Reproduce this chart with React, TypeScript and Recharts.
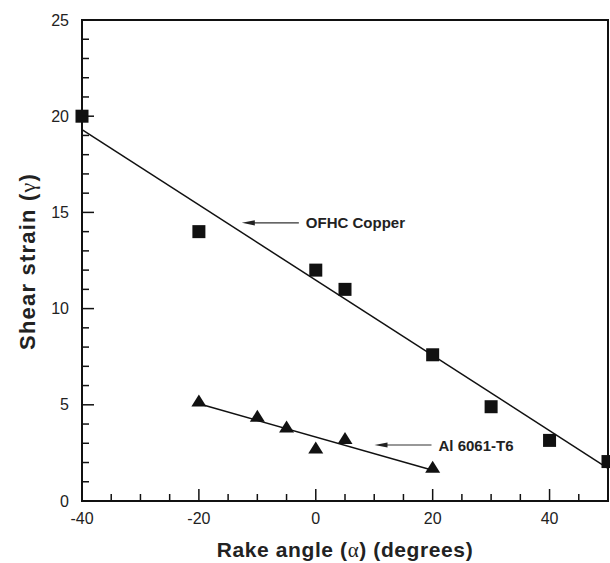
import { ComposedChart, Label, Line, ReferenceArea, ReferenceDot, Scatter, XAxis, YAxis } from "recharts"

// OFHC Copper measurements
const copperRake = [-40, -20, 0, 5, 20, 30, 40, 50]
const copperStrain = [20, 14, 12, 11, 7.6, 4.9, 3.15, 2.05]
// Al 6061-T6 measurements
const alRake = [-20, -10, -5, 0, 5, 20]
const alStrain = [5.2, 4.4, 3.85, 2.75, 3.25, 1.75]
// fitted lines (end points)
const copperFitRake = [-40, 50]
const copperFitStrain = [19.3, 1.7]
const alFitRake = [-20, 20]
const alFitStrain = [5.05, 1.6]
// annotation anchors
const noteLabels = ["OFHC Copper", "Al 6061-T6"]
const noteRake = [-1.7, 21]
const noteStrain = [14.46, 2.91]

const xTicks = Array.from({ length: 19 }, (_, i) => -40 + i * 5)
const yTicks = Array.from({ length: 26 }, (_, i) => i)

const zip = (xs: number[], ys: number[]) => xs.map((x, i) => ({ x, y: ys[i] }))
const copperData = zip(copperRake, copperStrain)
const alData = zip(alRake, alStrain)
const copperFit = zip(copperFitRake, copperFitStrain)
const alFit = zip(alFitRake, alFitStrain)

const INK = "#111"
const FONT = "'Liberation Sans', Arial, Helvetica, sans-serif"

const XTick = (props: any) => {
  const { x, y, payload } = props
  const v = payload.value
  const major = v % 20 === 0
  return (
    <g>
      <line x1={x} y1={y} x2={x} y2={y - (major ? 12 : 7)} stroke={INK} strokeWidth={1.5} />
      {major && (
        <text x={x} y={y + 17} textAnchor="middle" dominantBaseline="central" fontSize={16} fill="#222" fontFamily={FONT}>
          {v}
        </text>
      )}
    </g>
  )
}

const YTick = (props: any) => {
  const { x, y, payload } = props
  const v = payload.value
  const major = v % 5 === 0
  return (
    <g>
      <line x1={x} y1={y} x2={x + (major ? 12 : 7)} y2={y} stroke={INK} strokeWidth={1.5} />
      {major && (
        <text x={x - 13} y={y} textAnchor="end" dominantBaseline="central" fontSize={16} fill="#222" fontFamily={FONT}>
          {v}
        </text>
      )}
    </g>
  )
}

const Square = (p: any) => <rect x={p.cx - 6.5} y={p.cy - 6.5} width={13} height={13} fill={INK} />

const Triangle = (p: any) => (
  <polygon points={`${p.cx},${p.cy - 6.5} ${p.cx - 7.5},${p.cy + 5.5} ${p.cx + 7.5},${p.cy + 5.5}`} fill={INK} />
)

const Note = (text: string) => (p: any) => {
  const { cx, cy } = p
  const end = cx - 7
  const tip = end - 57
  return (
    <g>
      <line x1={end} y1={cy} x2={tip + 10} y2={cy} stroke="#333" strokeWidth={1.2} />
      <polygon points={`${tip},${cy} ${tip + 13},${cy - 2.6} ${tip + 13},${cy + 2.6}`} fill="#222" />
      <text x={cx} y={cy} dominantBaseline="central" fontSize={15} fontWeight="bold" fill="#222" fontFamily={FONT}>
        {text}
      </text>
    </g>
  )
}

const XTitle = (p: any) => {
  const vb = p.viewBox
  return (
    <text x={vb.x + vb.width / 2} y={vb.y + 56} textAnchor="middle" fontSize={21} letterSpacing={0.6} fontWeight="bold" fill="#222" fontFamily={FONT}>
      Rake angle (<tspan fontWeight="normal" fontFamily="'Liberation Serif', serif">α</tspan>) (degrees)
    </text>
  )
}

const YTitle = (p: any) => {
  const vb = p.viewBox
  const cx = vb.x + 35
  const cy = vb.y + vb.height / 2 + 1
  return (
    <text x={cx} y={cy} transform={`rotate(-90 ${cx} ${cy})`} textAnchor="middle" fontSize={22} letterSpacing={1.2} fontWeight="bold" fill="#222" fontFamily={FONT}>
      Shear strain (<tspan fontWeight="normal" fontFamily="'Liberation Serif', serif">γ</tspan>)
    </text>
  )
}

export default function App() {
  return (
    <div style={{ position: "absolute", left: 0, top: 0, background: "#fff" }}>
      <ComposedChart width={610} height={563} margin={{ top: 20, right: 2, bottom: 0, left: 0 }}>
        <XAxis
          type="number"
          dataKey="x"
          domain={[-40, 50]}
          ticks={xTicks}
          interval={0}
          tickLine={false}
          tickSize={0}
          tickMargin={0}
          height={62}
          axisLine={{ stroke: INK, strokeWidth: 2 }}
          tick={<XTick />}
        >
          <Label content={XTitle} />
        </XAxis>
        <YAxis
          type="number"
          dataKey="y"
          domain={[0, 25]}
          ticks={yTicks}
          interval={0}
          tickLine={false}
          tickSize={0}
          tickMargin={0}
          width={82}
          axisLine={{ stroke: INK, strokeWidth: 2 }}
          tick={<YTick />}
        >
          <Label content={YTitle} />
        </YAxis>
        <ReferenceArea x1={-40} x2={50} y1={0} y2={25} fill="none" stroke={INK} strokeWidth={2} />
        <Line data={copperFit} dataKey="y" type="linear" dot={false} stroke={INK} strokeWidth={1.5} isAnimationActive={false} />
        <Line data={alFit} dataKey="y" type="linear" dot={false} stroke={INK} strokeWidth={1.5} isAnimationActive={false} />
        <Scatter data={copperData} dataKey="y" shape={Square} isAnimationActive={false} />
        <Scatter data={alData} dataKey="y" shape={Triangle} isAnimationActive={false} />
        {noteLabels.map((t, i) => (
          <ReferenceDot key={t} x={noteRake[i]} y={noteStrain[i]} r={0} shape={Note(t)} />
        ))}
      </ComposedChart>
    </div>
  )
}
